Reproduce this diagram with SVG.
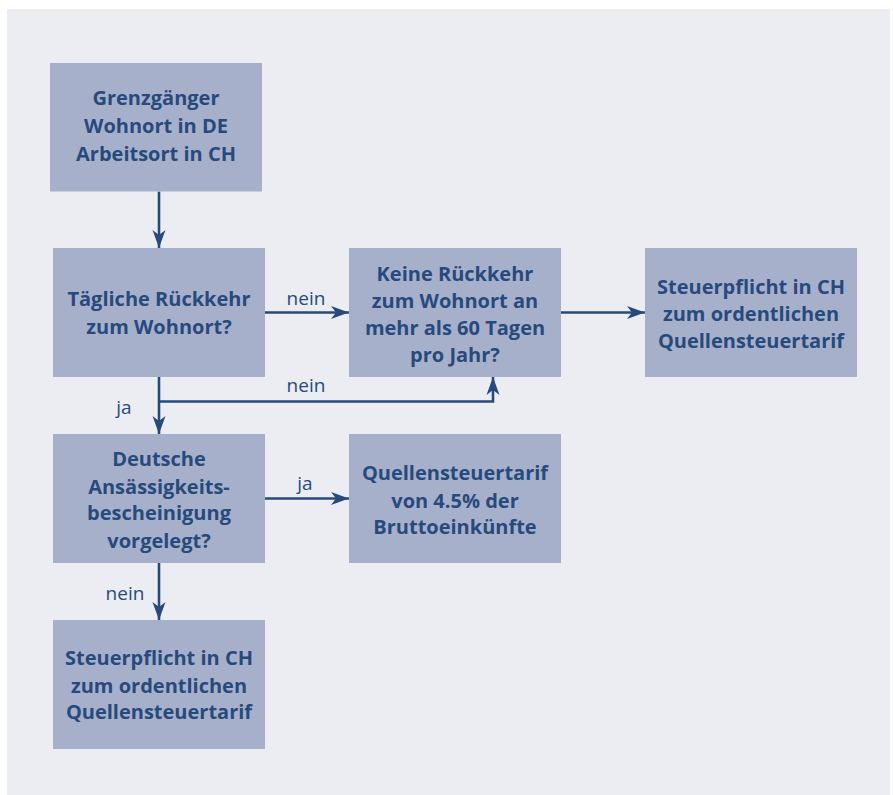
<svg xmlns="http://www.w3.org/2000/svg" width="893" height="795" viewBox="0 0 893 795">
  <defs>
    <style>
      .box { fill: #A7B0CB; }
      .t { font-family: "Open Sans", Lato, "Liberation Sans", sans-serif; font-weight: 700; font-size: 20px; fill: #274A7D; text-anchor: middle; }
      .lbl { font-family: "Open Sans", Lato, "Liberation Sans", sans-serif; font-weight: 400; font-size: 19px; fill: #274A7D; text-anchor: middle; }
      .conn { fill: none; stroke: #274A7D; stroke-width: 2.6; marker-end: url(#arr); }
    </style>
    <marker id="arr" markerUnits="userSpaceOnUse" markerWidth="20" markerHeight="16" viewBox="-18 -8 20 16" refX="0" refY="0" orient="auto">
      <path d="M0,0 L-18,-6.5 L-13,0 L-18,6.5 Z" fill="#274A7D"/>
    </marker>
  </defs>
  <rect x="7" y="9" width="883" height="786" fill="#ECEDF3"/>

  <g id="connectors">
    <path class="conn" d="M159,191.5 V248"/>
    <path class="conn" d="M265,312.5 H349"/>
    <path class="conn" d="M561,312.5 H645"/>
    <path class="conn" d="M159,377 V434"/>
    <path class="conn" d="M159,401.5 H493 V377"/>
    <path class="conn" d="M265,498.5 H349"/>
    <path class="conn" d="M159,563 V620"/>
    <text class="lbl" x="306" y="305">nein</text>
    <text class="lbl" x="306" y="392">nein</text>
    <text class="lbl" x="124" y="414">ja</text>
    <text class="lbl" x="305" y="490">ja</text>
    <text class="lbl" x="125" y="600">nein</text>
  </g>

  <g id="n1">
    <rect class="box" x="50" y="63" width="212" height="128.5"/>
    <text class="t" x="156" y="105">Grenzgänger</text>
    <text class="t" x="156" y="133">Wohnort in DE</text>
    <text class="t" x="156" y="161">Arbeitsort in CH</text>
  </g>
  <g id="n2">
    <rect class="box" x="53" y="248" width="212" height="129"/>
    <text class="t" x="159" y="306">Tägliche Rückkehr</text>
    <text class="t" x="159" y="333.5">zum Wohnort?</text>
  </g>
  <g id="n3">
    <rect class="box" x="349" y="248" width="212" height="129"/>
    <text class="t" x="455" y="280.5">Keine Rückkehr</text>
    <text class="t" x="455" y="308">zum Wohnort an</text>
    <text class="t" x="455" y="334.5">mehr als 60 Tagen</text>
    <text class="t" x="455" y="362">pro Jahr?</text>
  </g>
  <g id="n4">
    <rect class="box" x="645" y="248" width="212" height="129"/>
    <text class="t" x="751" y="294">Steuerpflicht in CH</text>
    <text class="t" x="751" y="321">zum ordentlichen</text>
    <text class="t" x="751" y="348">Quellensteuertarif</text>
  </g>
  <g id="n5">
    <rect class="box" x="53" y="434" width="212" height="129"/>
    <text class="t" x="159" y="466">Deutsche</text>
    <text class="t" x="159" y="493.5">Ansässigkeits-</text>
    <text class="t" x="159" y="520">bescheinigung</text>
    <text class="t" x="159" y="547.5">vorgelegt?</text>
  </g>
  <g id="n6">
    <rect class="box" x="349" y="434" width="212" height="129"/>
    <text class="t" x="455" y="480">Quellensteuertarif</text>
    <text class="t" x="455" y="507.5">von 4.5% der</text>
    <text class="t" x="455" y="534">Bruttoeinkünfte</text>
  </g>
  <g id="n7">
    <rect class="box" x="53" y="620" width="212" height="129"/>
    <text class="t" x="159" y="665">Steuerpflicht in CH</text>
    <text class="t" x="159" y="692.5">zum ordentlichen</text>
    <text class="t" x="159" y="718.5">Quellensteuertarif</text>
  </g>
</svg>
